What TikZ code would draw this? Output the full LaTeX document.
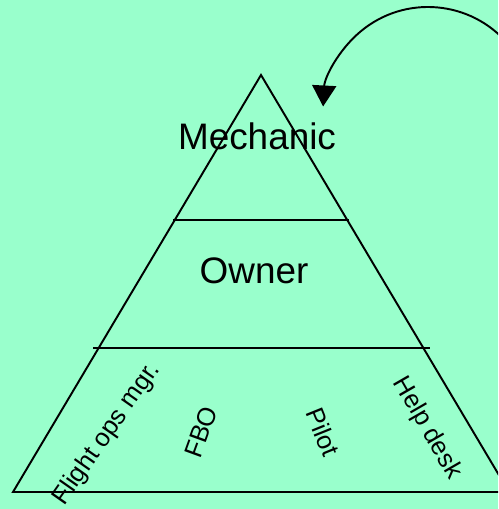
\documentclass[tikz,border=0pt]{standalone}
\usepackage{fontspec}
\setmainfont{Liberation Sans}
\usetikzlibrary{arrows.meta}
\definecolor{bgmint}{RGB}{153,255,204}
\begin{document}
\begin{tikzpicture}[x=0.02cm,y=-0.02cm,line width=1.1pt,
    bigtxt/.style={font=\fontsize{21}{25}\selectfont},
    smalltxt/.style={font=\fontsize{14.5}{17}\selectfont}]
  \fill[bgmint] (0,0) rectangle (498,509);
  \clip (0,0) rectangle (498,509);
  % pyramid
  \coordinate (apex) at (261,75);
  \coordinate (baseL) at (13,492);
  \coordinate (baseR) at (509,492);
  \draw (baseL) -- (apex) -- (baseR) -- cycle;
  \draw (173,220) -- (349,220);
  \draw (93,348) -- (430,348);
  % levels
  \node[bigtxt,anchor=base] (mech) at (257,150) {Mechanic};
  \node[bigtxt,anchor=base] (owner) at (254,283) {Owner};
  \node[smalltxt,rotate=55] (flightops) at (107,434) {Flight ops mgr.};
  \node[smalltxt,rotate=70] (fbo) at (201,432) {FBO};
  \node[smalltxt,rotate=-68] (pilot) at (323,432) {Pilot};
  \node[smalltxt,rotate=-60] (helpdesk) at (427,428) {Help desk};
  % loop back to the top
  \coordinate (loopstart) at (508.4,44.5);
  \draw[-{Triangle[length=0.42cm,width=0.48cm]}] (loopstart)
    arc[start angle=-40,end angle=-177,radius=105];
\end{tikzpicture}
\end{document}
